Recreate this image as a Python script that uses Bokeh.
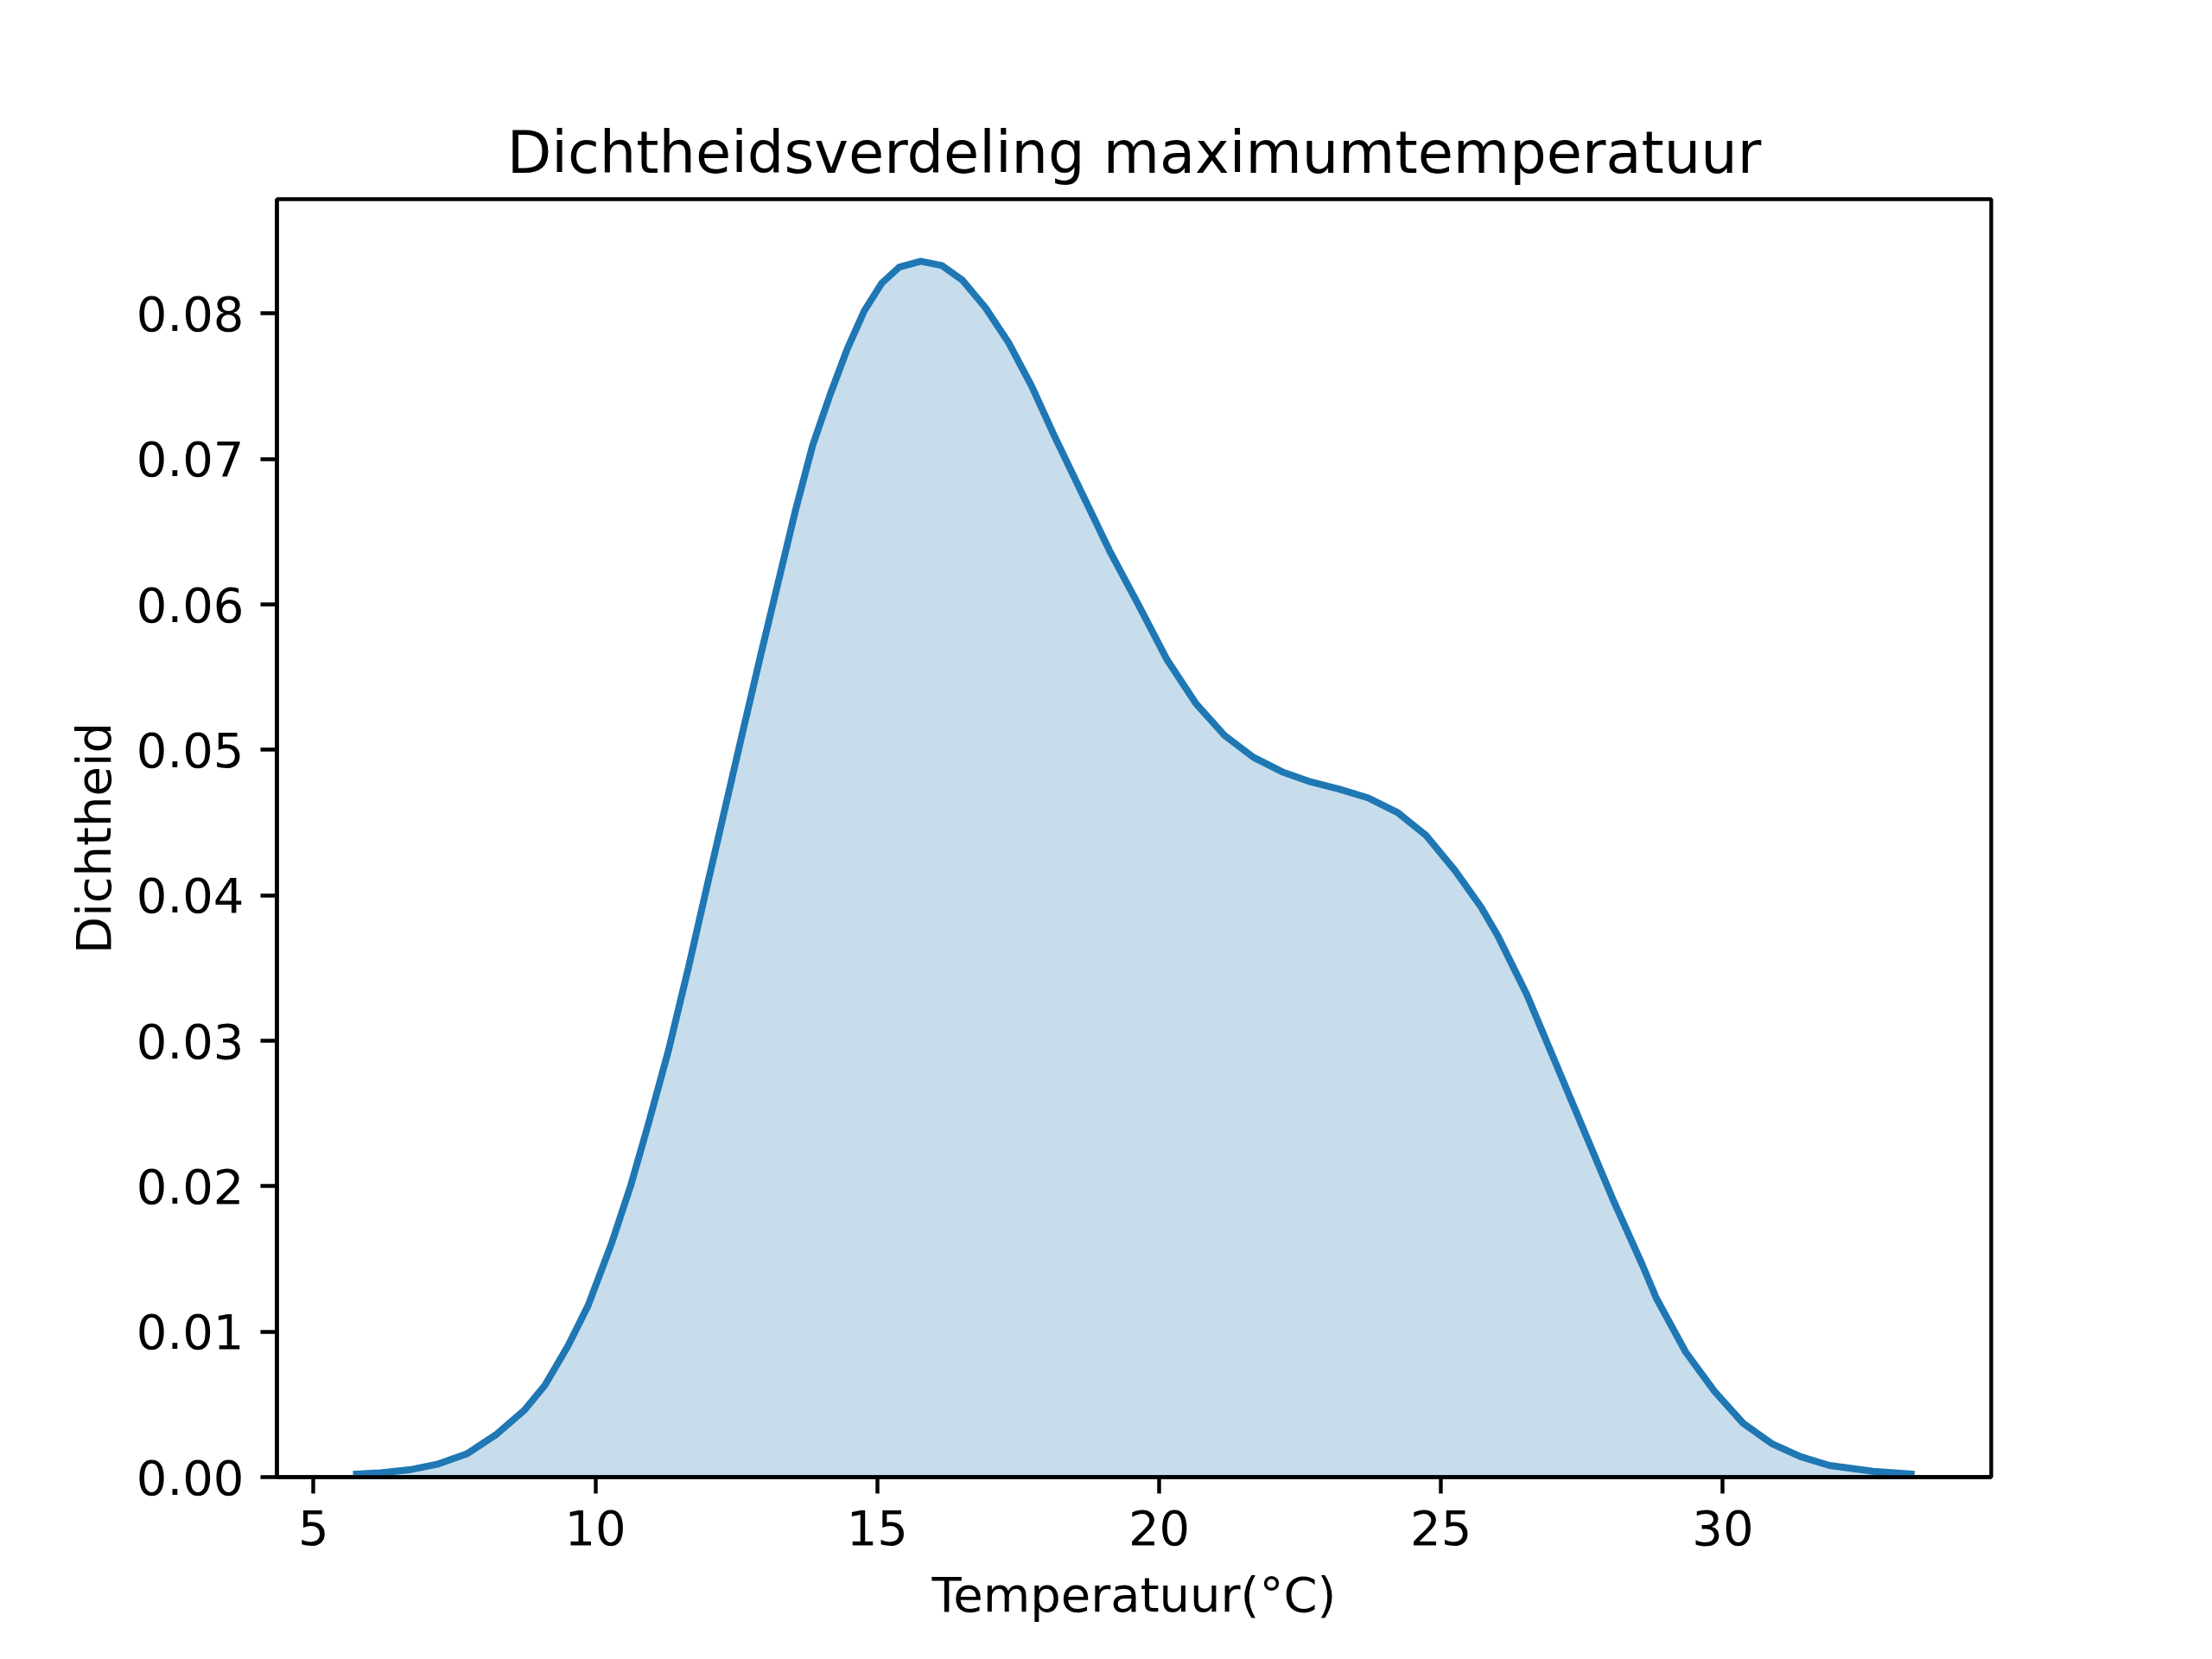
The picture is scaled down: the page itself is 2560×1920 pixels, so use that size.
from bokeh.plotting import figure
from bokeh.models import Range1d, FixedTicker, PrintfTickFormatter
from bokeh.embed import file_html
from bokeh.resources import INLINE

# Density curve
temperature = [5.70, 6.19, 6.70, 7.21, 7.72, 8.23, 8.74, 9.10, 9.51, 9.87,
               10.28, 10.63, 10.94, 11.30, 11.66, 11.96, 12.27, 12.58, 12.93, 13.24,
               13.55, 13.85, 14.16, 14.47, 14.77, 15.08, 15.39, 15.77, 16.15,
               16.51, 16.92, 17.33, 17.74, 18.14, 18.55, 19.12, 19.63, 20.14, 20.65,
               21.16, 21.67, 22.18, 22.69, 23.20, 23.71, 24.23, 24.74, 25.25, 25.71,
               26.01, 26.52, 27.03, 27.55, 28.06, 28.57, 28.82, 29.34, 29.85, 30.36,
               30.87, 31.38, 31.89, 32.66, 33.40]
density = [0.0002, 0.0003, 0.0005, 0.0009, 0.0016, 0.0029, 0.0046, 0.0063, 0.0090, 0.0118,
           0.0160, 0.0201, 0.0243, 0.0294, 0.0352, 0.0403, 0.0455, 0.0507, 0.0565, 0.0615,
           0.0665, 0.0709, 0.0744, 0.0776, 0.0802, 0.0821, 0.0832, 0.0836, 0.0833,
           0.0823, 0.0804, 0.0780, 0.0750, 0.0716, 0.0683, 0.0637, 0.0600, 0.0562, 0.0532,
           0.0510, 0.0495, 0.0485, 0.0478, 0.0473, 0.0467, 0.0457, 0.0441, 0.0417, 0.0392,
           0.0372, 0.0332, 0.0285, 0.0237, 0.0190, 0.0146, 0.0123, 0.0086, 0.0059, 0.0037,
           0.0023, 0.0014, 0.0008, 0.0004, 0.0002]
zero_line = [0.0] * len(temperature)

x_ticks = [5, 10, 15, 20, 25, 30]
y_ticks = [0.00, 0.01, 0.02, 0.03, 0.04, 0.05, 0.06, 0.07, 0.08]

title_text = "Dichtheidsverdeling maximumtemperatuur"
x_label = "Temperatuur(°C)"
y_label = "Dichtheid"

FONT = "DejaVu Sans"
W, H = 2544, 1904

p = figure(width=W, height=H, output_backend="svg", toolbar_location=None,
           x_range=Range1d(4.35, 34.76), y_range=Range1d(0, 0.08787),
           min_border_left=320, min_border_right=W - 2304,
           min_border_top=230, min_border_bottom=H - 1709)

p.title.text = title_text
p.title.text_font = FONT
p.title.text_font_size = "67px"
p.title.text_font_style = "normal"
p.title.align = "center"
p.title.text_color = "black"
p.title.standoff = 30

p.varea(x=temperature, y1=zero_line, y2=density, fill_color="#1f77b4", fill_alpha=0.25)
p.line(x=temperature, y=density, line_color="#1f77b4", line_width=8.0, line_join="round")

p.xgrid.visible = False
p.ygrid.visible = False
p.outline_line_color = "black"
p.outline_line_width = 4.4
p.outline_line_alpha = 1.0
p.background_fill_color = "white"
p.border_fill_color = "white"

p.xaxis.ticker = FixedTicker(ticks=x_ticks)
p.yaxis.ticker = FixedTicker(ticks=y_ticks)
p.yaxis.formatter = PrintfTickFormatter(format="%.2f")

for ax in (p.xaxis[0], p.yaxis[0]):
    ax.axis_line_color = "black"
    ax.axis_line_width = 4.4
    ax.major_tick_line_color = "black"
    ax.major_tick_line_width = 4.4
    ax.major_tick_out = 19
    ax.major_tick_in = 0
    ax.minor_tick_line_color = None
    ax.major_label_text_font = FONT
    ax.major_label_text_font_size = "56px"
    ax.major_label_text_color = "black"
    ax.major_label_standoff = 19
    ax.axis_label_text_font = FONT
    ax.axis_label_text_font_size = "56px"
    ax.axis_label_text_font_style = "normal"
    ax.axis_label_text_color = "black"

p.xaxis.axis_label = x_label
p.yaxis.axis_label = y_label
p.xaxis.axis_label_standoff = 22
p.yaxis.axis_label_standoff = 14

open("out.html", "w").write(file_html(p, INLINE))
